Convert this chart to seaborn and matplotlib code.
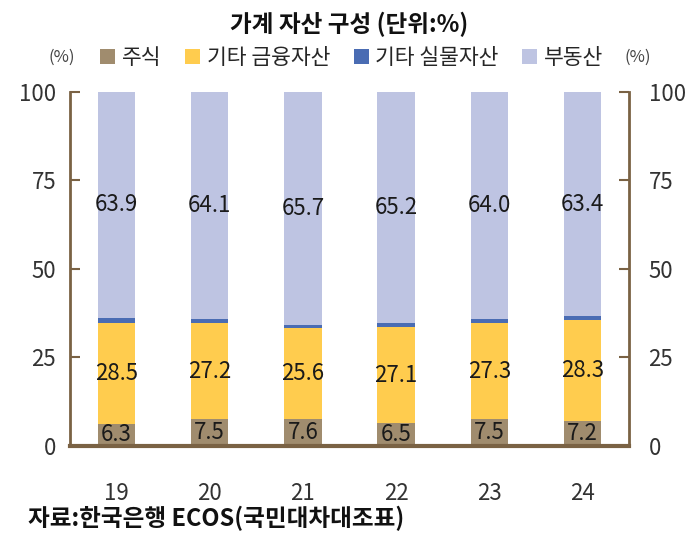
import pandas as pd
import matplotlib.pyplot as plt
import seaborn as sns
from matplotlib.patches import Patch

years = ["19", "20", "21", "22", "23", "24"]
stock = [6.3, 7.5, 7.6, 6.5, 7.5, 7.2]
other_fin = [28.5, 27.2, 25.6, 27.1, 27.3, 28.3]
other_real = [1.3, 1.2, 1.1, 1.2, 1.2, 1.1]
real_estate = [63.9, 64.1, 65.7, 65.2, 64.0, 63.4]

series_names = ["주식", "기타 금융자산", "기타 실물자산", "부동산"]
colors = ["#a08c6e", "#ffcc4e", "#4a6cb3", "#bec4e2"]
frame_color = "#7a6244"

sns.set_theme(style="white")
plt.rcParams["font.family"] = ["Noto Sans CJK KR", "DejaVu Sans"]

df = pd.DataFrame({
    "year": years,
    "stock": stock,
    "other_fin": other_fin,
    "other_real": other_real,
    "real_estate": real_estate,
})
cols = ["stock", "other_fin", "other_real", "real_estate"]
cum = df[cols].cumsum(axis=1)

fig = plt.figure(figsize=(6.99, 5.40), dpi=100)
ax = fig.add_axes([0.1, 0.174, 0.8, 0.656])

# draw cumulative totals from the top layer down so lower layers sit on top
for col, color in reversed(list(zip(cols, colors))):
    sns.barplot(x=df["year"], y=cum[col], color=color, width=0.4,
                saturation=1, ax=ax, order=years, linewidth=0, edgecolor="none")

# value labels (skip 기타 실물자산)
for col in ["stock", "other_fin", "real_estate"]:
    centers = cum[col] - df[col] / 2
    for i, (v, c) in enumerate(zip(df[col], centers)):
        ax.text(i, c, f"{v:.1f}", ha="center", va="center",
                fontsize=16, color="#1a1a1a")

ax.set_xlim(-0.5, 5.5)
ax.set_ylim(0, 100)
ax.set_yticks([0, 25, 50, 75, 100])
ax.set_xlabel("")
ax.set_ylabel("")

for side in ["left", "right", "bottom"]:
    ax.spines[side].set_visible(True)
    ax.spines[side].set_color(frame_color)
ax.spines["left"].set_linewidth(2)
ax.spines["right"].set_linewidth(2)
ax.spines["bottom"].set_linewidth(3)
ax.spines["top"].set_visible(False)

ax.tick_params(axis="y", direction="in", length=7, width=1.5, color=frame_color,
               labelsize=16, labelcolor="#333333", pad=10, left=True)
ax.tick_params(axis="x", length=0, labelsize=16, labelcolor="#333333", pad=26)

ax2 = ax.twinx()
ax2.set_ylim(0, 100)
ax2.set_yticks([0, 25, 50, 75, 100])
ax2.tick_params(axis="y", direction="in", length=7, width=1.5, color=frame_color,
                labelsize=16, labelcolor="#333333", pad=14)
for side in ["left", "right", "bottom", "top"]:
    ax2.spines[side].set_visible(False)
ax2.grid(False)
ax.grid(False)

fig.text(0.5, 0.955, "가계 자산 구성 (단위:%)", ha="center", va="center",
         fontsize=17, fontweight="bold", color="#111111")

handles = [Patch(facecolor=c, edgecolor="none") for c in colors]
fig.legend(handles, series_names, loc="center", bbox_to_anchor=(0.503, 0.893),
           ncol=4, frameon=False, fontsize=15.5, handlelength=0.7,
           handleheight=0.7, handletextpad=0.3, columnspacing=1.1)
fig.text(0.088, 0.893, "(%)", ha="center", va="center", fontsize=12,
         color="#444444")
fig.text(0.912, 0.893, "(%)", ha="center", va="center", fontsize=12,
         color="#444444")

fig.text(0.04, 0.04, "자료:한국은행 ECOS(국민대차대조표)", ha="left", va="center",
         fontsize=17, fontweight="bold", color="#111111")

fig.savefig("out.png", dpi=100)
